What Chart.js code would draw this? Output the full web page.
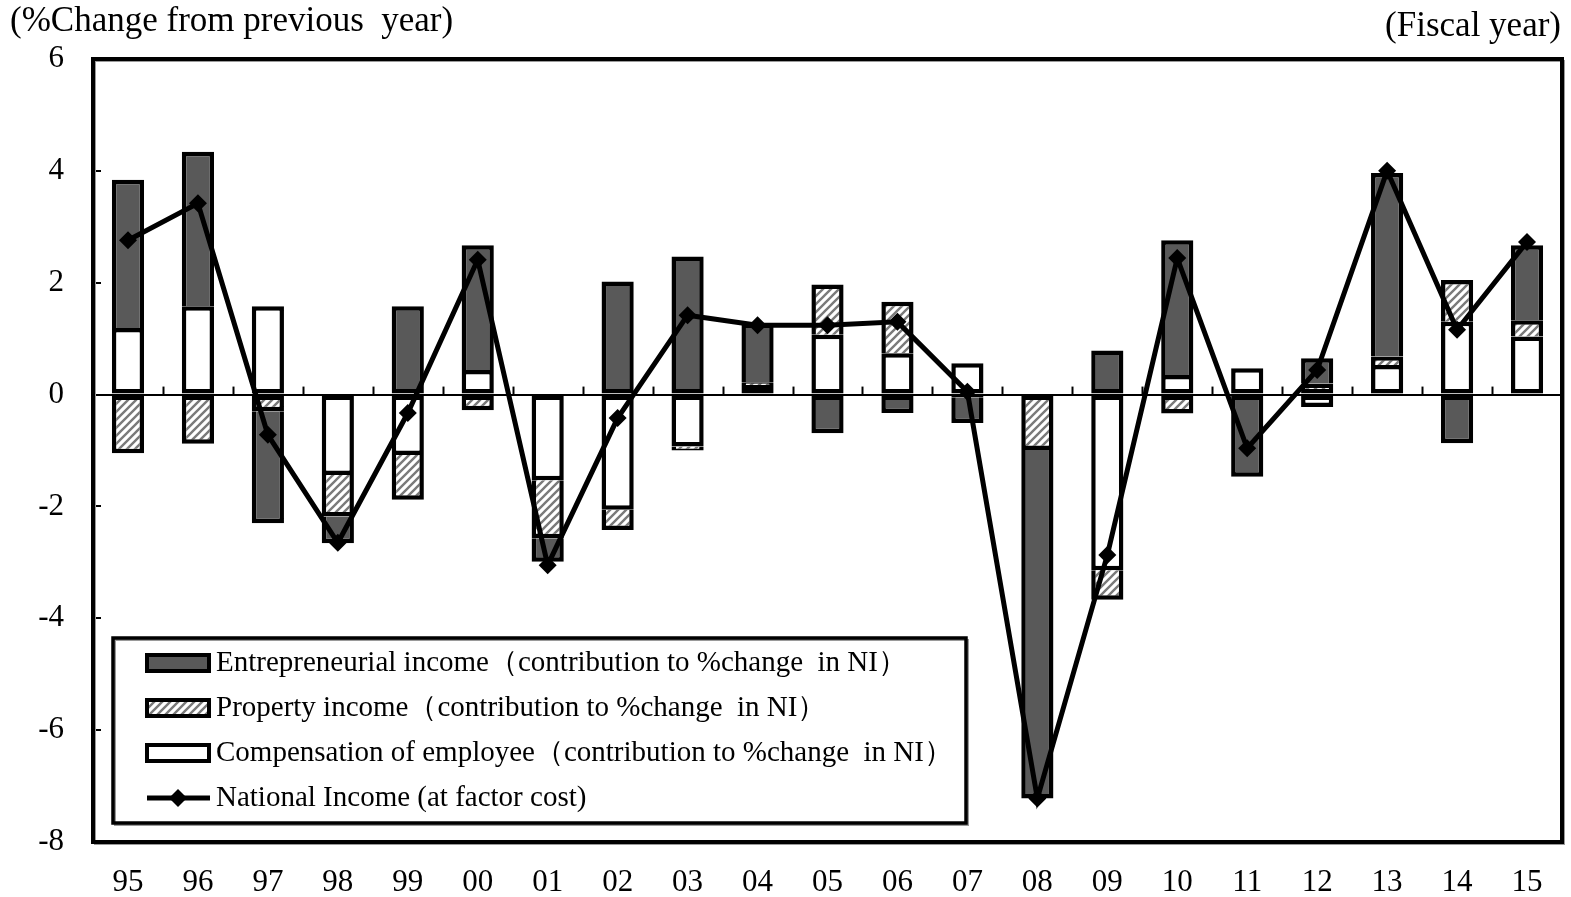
<!DOCTYPE html>
<html>
<head>
<meta charset="utf-8">
<script src="https://cdn.jsdelivr.net/npm/chart.js@4.4.0/dist/chart.umd.min.js"></script>
<style>
  html, body { margin: 0; padding: 0; background: #fff; }
  #wrap { width: 1571px; height: 897px; }
</style>
</head>
<body>
<div id="wrap"><canvas id="grafico" width="1571" height="897"></canvas></div>
<script>
// Datos (contribuciones en puntos porcentuales)
const years = ['95','96','97','98','99','00','01','02','03','04','05','06','07','08','09','10','11','12','13','14','15'];
const compensation   = [1.19, 1.58, 1.58, -1.44, -1.08, 0.44, -1.53, -2.06, -0.93, 0.17, 1.07, 0.74, 0.56, 0, -3.14, 0.35, 0.47, -0.22, 0.53, 1.30, 1.04];
const property       = [-1.05, -0.88, -0.30, -0.74, -0.80, -0.28, -1.04, -0.36, -0.07, 0.05, 0.90, 0.92, -0.05, -0.99, -0.53, -0.34, 0, 0.20, 0.15, 0.75, 0.29];
const entrepreneurial = [2.65, 2.76, -2.00, -0.48, 1.58, 2.23, -0.42, 2.02, 2.47, 1.05, -0.69, -0.33, -0.46, -6.23, 0.79, 2.41, -1.47, 0.45, 3.28, -0.87, 1.34];
const nationalIncome = [2.76, 3.42, -0.72, -2.65, -0.33, 2.41, -3.05, -0.42, 1.42, 1.24, 1.24, 1.30, 0.05, -7.22, -2.87, 2.44, -0.96, 0.44, 4.0, 1.16, 2.73];
const yTicks = [-8, -6, -4, -2, 0, 2, 4, 6];

const SERIF = "'Liberation Serif', 'Times New Roman', serif";
const DARK = '#595959';

// patron rayado para la renta de la propiedad
function makeHatch() {
    const c = document.createElement('canvas');
    c.width = 8; c.height = 8;
    const g = c.getContext('2d');
    g.fillStyle = '#fff';
    g.fillRect(0, 0, 8, 8);
    g.strokeStyle = '#7a7a7a';
    g.lineWidth = 2.4;
    g.beginPath();
    g.moveTo(-2, 10); g.lineTo(10, -2);
    g.moveTo(-2, 2); g.lineTo(2, -2);
    g.moveTo(6, 10); g.lineTo(10, 6);
    g.stroke();
    return g.createPattern(c, 'repeat');
}
const hatch = makeHatch();

const barSeries = [compensation, property, entrepreneurial];

// si el segmento arranca en cero dibuja todos los bordes, si no omite la base
function skipFor(seriesIdx) {
    return function (ctx) {
        const i = ctx.dataIndex;
        const v = barSeries[seriesIdx][i];
        let base = 0;
        for (let j = 0; j < seriesIdx; j++) {
            const w = barSeries[j][i];
            if (w !== 0 && Math.sign(w) === Math.sign(v)) base += w;
        }
        return base === 0 ? false : 'start';
    };
}

const framePlugin = {
    id: 'frame',
    afterDraw(chart) {
        const { ctx, chartArea: a, scales } = chart;
        const xs = scales.x, ys = scales.y;
        const y0 = ys.getPixelForValue(0);
        ctx.save();
        // marcas del eje x sobre la linea de cero
        ctx.strokeStyle = '#000';
        ctx.lineWidth = 2;
        for (let i = 0; i < years.length - 1; i++) {
            const x = Math.round((xs.getPixelForValue(i) + xs.getPixelForValue(i + 1)) / 2) + 0.5;
            ctx.beginPath();
            ctx.moveTo(x, y0);
            ctx.lineTo(x, y0 - 8);
            ctx.stroke();
        }
        // marcas del eje y hacia dentro
        yTicks.forEach(v => {
            const y = Math.round(ys.getPixelForValue(v));
            ctx.beginPath();
            ctx.moveTo(a.left, y);
            ctx.lineTo(a.left + 8, y);
            ctx.stroke();
        });
        // marco del area de trazado
        ctx.strokeStyle = '#9a9a9a';
        ctx.lineWidth = 2;
        ctx.strokeRect(a.left + 2, a.top + 2, a.right - a.left, a.bottom - a.top);
        ctx.strokeStyle = '#000';
        ctx.lineWidth = 4;
        ctx.strokeRect(a.left, a.top, a.right - a.left, a.bottom - a.top);

        // titulos
        ctx.fillStyle = '#000';
        ctx.font = '35px ' + SERIF;
        ctx.textBaseline = 'middle';
        ctx.textAlign = 'left';
        ctx.fillText('(%Change from previous  year)', 10, 22);
        ctx.textAlign = 'right';
        ctx.fillText('(Fiscal year)', 1561, 27);

        // leyenda
        const L = { x: 113, y: 638, w: 853, h: 185 };
        ctx.fillStyle = '#fff';
        ctx.fillRect(L.x, L.y, L.w, L.h);
        ctx.strokeStyle = '#9a9a9a';
        ctx.lineWidth = 2;
        ctx.strokeRect(L.x + 2, L.y + 2, L.w, L.h);
        ctx.strokeStyle = '#000';
        ctx.lineWidth = 3.5;
        ctx.strokeRect(L.x, L.y, L.w, L.h);

        const order = [2, 1, 0, 3];
        ctx.font = '29px ' + SERIF;
        ctx.textAlign = 'left';
        order.forEach((di, k) => {
            const ds = chart.data.datasets[di];
            const cy = 663 + k * 45;
            if (ds.type === 'line') {
                ctx.strokeStyle = '#000';
                ctx.lineWidth = 5;
                ctx.beginPath();
                ctx.moveTo(147, cy);
                ctx.lineTo(210, cy);
                ctx.stroke();
                ctx.fillStyle = '#000';
                ctx.beginPath();
                ctx.moveTo(178, cy - 9); ctx.lineTo(187, cy); ctx.lineTo(178, cy + 9); ctx.lineTo(169, cy);
                ctx.closePath();
                ctx.fill();
            } else {
                ctx.fillStyle = ds.backgroundColor;
                ctx.fillRect(147, cy - 8, 62, 16);
                ctx.strokeStyle = '#000';
                ctx.lineWidth = 4;
                ctx.strokeRect(147, cy - 8, 62, 16);
            }
            ctx.fillStyle = '#000';
            ctx.fillText(ds.label, 216, cy);
        });
        ctx.restore();
    }
};

const ctx = document.getElementById('grafico').getContext('2d');
new Chart(ctx, {
    data: {
        labels: years,
        datasets: [
            {
                type: 'bar', label: 'Compensation of employee\uFF08contribution to %change  in NI\uFF09',
                data: compensation, backgroundColor: '#fff', borderColor: '#000',
                borderWidth: 4.5, borderSkipped: skipFor(0), stack: 'ni', order: 1
            },
            {
                type: 'bar', label: 'Property income\uFF08contribution to %change  in NI\uFF09',
                data: property, backgroundColor: hatch, borderColor: '#000',
                borderWidth: 4.5, borderSkipped: skipFor(1), stack: 'ni', order: 1
            },
            {
                type: 'bar', label: 'Entrepreneurial income\uFF08contribution to %change  in NI\uFF09',
                data: entrepreneurial, backgroundColor: DARK, borderColor: '#000',
                borderWidth: 4.5, borderSkipped: skipFor(2), stack: 'ni', order: 1
            },
            {
                type: 'line', label: 'National Income (at factor cost)',
                data: nationalIncome, borderColor: '#000', backgroundColor: '#000',
                borderWidth: 5, pointStyle: 'rectRot', pointRadius: 9, pointBorderWidth: 0,
                tension: 0, stack: 'line', order: 0
            }
        ]
    },
    options: {
        responsive: false,
        animation: false,
        layout: { padding: { top: 59, right: 8, left: 0, bottom: 0 } },
        plugins: { legend: { display: false }, tooltip: { enabled: false } },
        datasets: { bar: { barPercentage: 0.46, categoryPercentage: 1 } },
        scales: {
            x: {
                stacked: true,
                grid: { display: false, drawTicks: false },
                border: { display: false },
                ticks: { color: '#000', font: { family: SERIF, size: 31 }, padding: 22, maxRotation: 0 },
                afterFit: s => { s.height = 55; }
            },
            y: {
                stacked: true,
                min: -8, max: 6,
                afterBuildTicks: s => { s.ticks = yTicks.map(v => ({ value: v })); },
                grid: {
                    drawTicks: false,
                    color: c => (c.tick && c.tick.value === 0 ? '#000' : 'rgba(0,0,0,0)'),
                    lineWidth: 2
                },
                border: { display: false },
                ticks: { color: '#000', font: { family: SERIF, size: 31 }, padding: 29 },
                afterFit: s => { s.width = 93; }
            }
        }
    },
    plugins: [framePlugin]
});
</script>
</body>
</html>
